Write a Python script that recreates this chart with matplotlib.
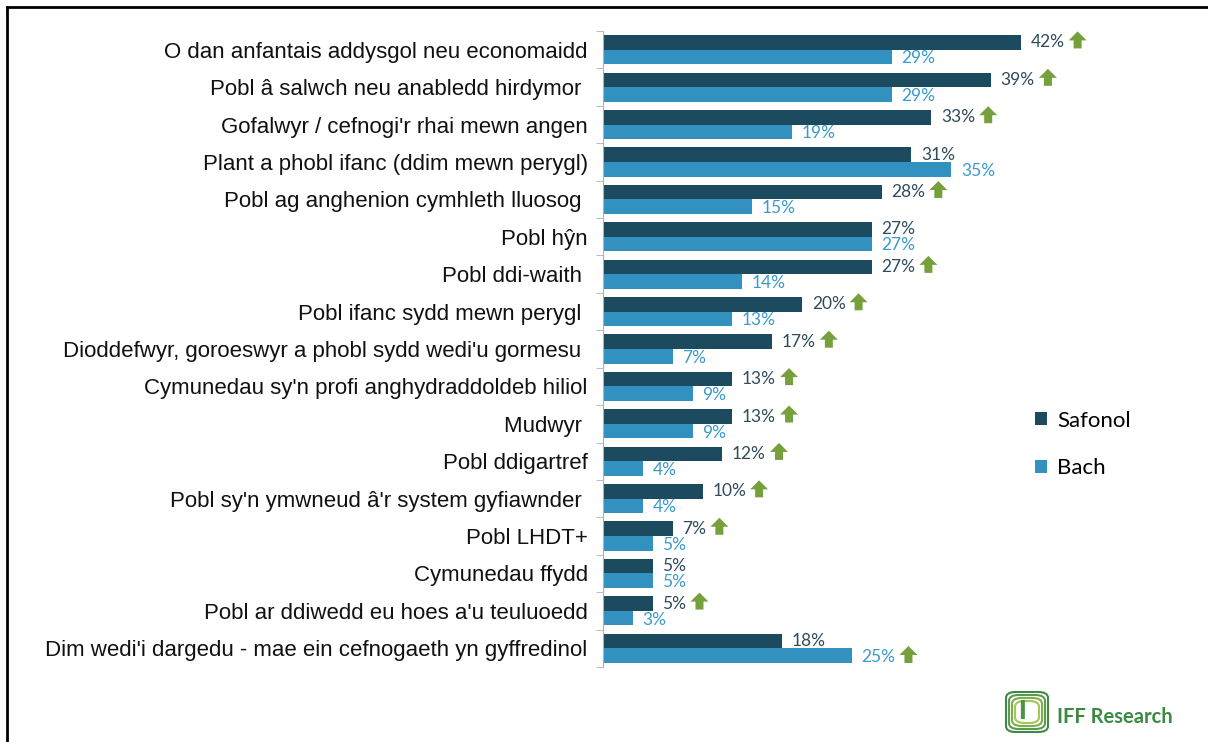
import matplotlib.pyplot as plt
import numpy as np
from matplotlib.patches import Polygon, FancyBboxPatch
from matplotlib.lines import Line2D

categories = ["O dan anfantais addysgol neu economaidd",
              "Pobl â salwch neu anabledd hirdymor ",
              "Gofalwyr / cefnogi'r rhai mewn angen",
              "Plant a phobl ifanc (ddim mewn perygl)",
              "Pobl ag anghenion cymhleth lluosog ",
              "Pobl hŷn",
              "Pobl ddi-waith ",
              "Pobl ifanc sydd mewn perygl ",
              "Dioddefwyr, goroeswyr a phobl sydd wedi'u gormesu ",
              "Cymunedau sy'n profi anghydraddoldeb hiliol",
              "Mudwyr ",
              "Pobl ddigartref",
              "Pobl sy'n ymwneud â'r system gyfiawnder ",
              "Pobl LHDT+",
              "Cymunedau ffydd",
              "Pobl ar ddiwedd eu hoes a'u teuluoedd",
              "Dim wedi'i dargedu - mae ein cefnogaeth yn gyffredinol"]
safonol = [42, 39, 33, 31, 28, 27, 27, 20, 17, 13, 13, 12, 10, 7, 5, 5, 18]
bach = [29, 29, 19, 35, 15, 27, 14, 13, 7, 9, 9, 4, 4, 5, 5, 3, 25]
# green arrow = significant difference
safonol_up = [1, 1, 1, 0, 1, 0, 1, 1, 1, 1, 1, 1, 1, 1, 0, 1, 0]
bach_up = [0, 0, 0, 0, 0, 0, 0, 0, 0, 0, 0, 0, 0, 0, 0, 0, 1]

dark = "#1c4a5f"
light = "#3391c0"
dark_txt = "#2f4b5c"
light_txt = "#3a9bcb"
green = "#76a03b"

W, H = 1208, 742
fig = plt.figure(figsize=(W / 100, H / 100), dpi=100)
ax = fig.add_axes([603 / W, (H - 667) / H, (1200 - 603) / W, (667 - 31) / H])

y = np.arange(len(categories))
bh = 0.39
ax.barh(y - bh / 2, safonol, height=bh, color=dark, label="Safonol")
ax.barh(y + bh / 2, bach, height=bh, color=light, label="Bach")

ax.set_xlim(0, 60)
ax.set_ylim(len(categories) - 0.5, -0.5)

val_texts = []
for i in range(len(categories)):
    t1 = ax.annotate(f"{safonol[i]}%", xy=(safonol[i], y[i] - bh / 2), xytext=(7, 0),
                     textcoords="offset points", ha="left", va="center",
                     fontsize=12.5, family="Lato", color=dark_txt)
    t2 = ax.annotate(f"{bach[i]}%", xy=(bach[i], y[i] + bh / 2), xytext=(7, -1),
                     textcoords="offset points", ha="left", va="center",
                     fontsize=12.5, family="Lato", color=light_txt)
    if safonol_up[i]:
        val_texts.append(t1)
    if bach_up[i]:
        val_texts.append(t2)

ax.set_yticks(y)
ax.set_yticklabels(categories, fontsize=16, family="Liberation Sans", color="#111111")
ax.tick_params(axis="y", which="major", length=0, pad=11)
ax.set_yticks(np.arange(-0.5, len(categories)), minor=True)
ax.tick_params(axis="y", which="minor", length=5, color="#b0b0b0", direction="out")
ax.set_xticks([])
for s in ["top", "right", "bottom"]:
    ax.spines[s].set_visible(False)
ax.spines["left"].set_color("#b0b0b0")

ax.legend(loc="center left", bbox_to_anchor=(0.69, 0.35), frameon=False,
          prop={"family": "Lato", "size": 16}, handlelength=0.55, handleheight=0.55,
          labelspacing=1.25, handletextpad=0.45)

# frame lines
fig.add_artist(Line2D([7 / W, 7 / W], [0, 1 - 7 / H], color="black", lw=2))
fig.add_artist(Line2D([7 / W, 1], [1 - 7 / H, 1 - 7 / H], color="black", lw=2))

# up arrows next to labels
fig.canvas.draw()
inv = fig.transFigure.inverted()
for t in val_texts:
    bb = t.get_window_extent()
    x0 = bb.x1 + 4
    cy = (bb.y0 + bb.y1) / 2 + 2
    pts = [(x0 + 5, cy - 8), (x0 + 13, cy - 8), (x0 + 13, cy), (x0 + 18, cy),
           (x0 + 9, cy + 9), (x0, cy), (x0 + 5, cy)]
    fig.add_artist(Polygon(inv.transform(pts), closed=True, color=green, lw=0))

# logo
for k, c in enumerate(["#3d8a48", "#5b9a4a", "#7cae4c", "#a3c655"]):
    pad = k * 3
    fig.add_artist(FancyBboxPatch(((1006 + pad) / W, (H - 732 + pad) / H),
                                  (42 - 2 * pad) / W, (40 - 2 * pad) / H,
                                  boxstyle="round,pad=0,rounding_size=0.008",
                                  transform=fig.transFigure, fill=False,
                                  edgecolor=c, lw=1.5))
fig.text(1018 / W, (H - 712) / H, "I", fontsize=20, fontweight="bold", color="#4c9247",
         family="Liberation Sans", va="center")
fig.text(1057 / W, (H - 717) / H, "IFF Research", fontsize=14.5, fontweight="bold",
         color="#3a8a3f", family="Lato", va="center")

fig.savefig("out.png", dpi=100)
